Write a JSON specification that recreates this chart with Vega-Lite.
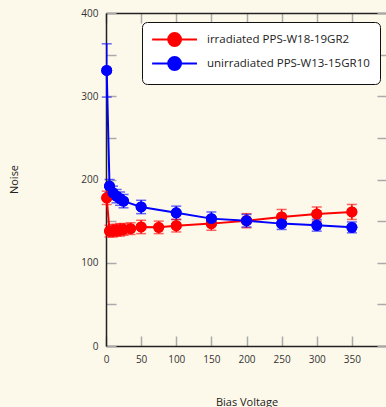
{
  "$schema": "https://vega.github.io/schema/vega-lite/v6.json",
  "autosize": {"type": "none"},
  "padding": {"left": 106, "top": 13, "right": 0, "bottom": 61},
  "width": 281,
  "height": 333,
  "background": "#fdf9ea",
  "config": {
    "font": "Open Sans",
    "view": {"stroke": null},
    "axis": {"labelFlush": false, "grid": false, "labelColor": "#333", "labelFontSize": 10, "titleFontSize": 11, "titleFontWeight": "normal", "titleColor": "#222", "tickColor": "#aaa", "tickWidth": 1.5, "domainColor": "#222", "domainWidth": 1.5}
  },
  "data": {"values": [
    {"v": 1, "noise": 178, "lo": 170, "hi": 186, "series": "irradiated PPS-W18-19GR2"},
    {"v": 5, "noise": 138, "lo": 131, "hi": 145, "series": "irradiated PPS-W18-19GR2"},
    {"v": 10, "noise": 138.5, "lo": 131, "hi": 146, "series": "irradiated PPS-W18-19GR2"},
    {"v": 15, "noise": 139, "lo": 132, "hi": 146, "series": "irradiated PPS-W18-19GR2"},
    {"v": 20, "noise": 139.5, "lo": 132, "hi": 147, "series": "irradiated PPS-W18-19GR2"},
    {"v": 25, "noise": 140, "lo": 133, "hi": 147, "series": "irradiated PPS-W18-19GR2"},
    {"v": 35, "noise": 141, "lo": 134, "hi": 148, "series": "irradiated PPS-W18-19GR2"},
    {"v": 50, "noise": 143, "lo": 135, "hi": 151, "series": "irradiated PPS-W18-19GR2"},
    {"v": 75, "noise": 142.5, "lo": 135, "hi": 150, "series": "irradiated PPS-W18-19GR2"},
    {"v": 100, "noise": 144.5, "lo": 137, "hi": 152, "series": "irradiated PPS-W18-19GR2"},
    {"v": 150, "noise": 147, "lo": 139, "hi": 155, "series": "irradiated PPS-W18-19GR2"},
    {"v": 200, "noise": 150.5, "lo": 142, "hi": 159, "series": "irradiated PPS-W18-19GR2"},
    {"v": 250, "noise": 155, "lo": 146, "hi": 164, "series": "irradiated PPS-W18-19GR2"},
    {"v": 300, "noise": 158.5, "lo": 150, "hi": 167, "series": "irradiated PPS-W18-19GR2"},
    {"v": 350, "noise": 161, "lo": 152, "hi": 170, "series": "irradiated PPS-W18-19GR2"},
    {"v": 1, "noise": 331, "lo": 299, "hi": 363, "series": "unirradiated PPS-W13-15GR10"},
    {"v": 5, "noise": 192, "lo": 184, "hi": 200, "series": "unirradiated PPS-W13-15GR10"},
    {"v": 10, "noise": 184, "lo": 176, "hi": 192, "series": "unirradiated PPS-W13-15GR10"},
    {"v": 15, "noise": 180, "lo": 172, "hi": 188, "series": "unirradiated PPS-W13-15GR10"},
    {"v": 20, "noise": 177, "lo": 169, "hi": 185, "series": "unirradiated PPS-W13-15GR10"},
    {"v": 25, "noise": 174, "lo": 166, "hi": 182, "series": "unirradiated PPS-W13-15GR10"},
    {"v": 50, "noise": 167, "lo": 159, "hi": 175, "series": "unirradiated PPS-W13-15GR10"},
    {"v": 100, "noise": 160, "lo": 152, "hi": 168, "series": "unirradiated PPS-W13-15GR10"},
    {"v": 150, "noise": 153, "lo": 145, "hi": 161, "series": "unirradiated PPS-W13-15GR10"},
    {"v": 200, "noise": 150.5, "lo": 143, "hi": 158, "series": "unirradiated PPS-W13-15GR10"},
    {"v": 250, "noise": 147, "lo": 140, "hi": 154, "series": "unirradiated PPS-W13-15GR10"},
    {"v": 300, "noise": 145, "lo": 138, "hi": 152, "series": "unirradiated PPS-W13-15GR10"},
    {"v": 350, "noise": 142.5, "lo": 136, "hi": 149, "series": "unirradiated PPS-W13-15GR10"}
  ]},
  "resolve": {"axis": {"x": "independent", "y": "independent"}},
  "layer": [
    {
      "mark": {"type": "point", "filled": true, "opacity": 1, "size": 120},
      "encoding": {
        "x": {"field": "v", "type": "quantitative", "title": "Bias Voltage", "scale": {"domain": [0, 400], "nice": false}, "axis": {"orient": "bottom", "values": [0, 50, 100, 150, 200, 250, 300, 350], "tickSize": -10, "labelPadding": 18, "titleY": 50, "titleBaseline": "top"}},
        "y": {"field": "noise", "type": "quantitative", "title": "Noise", "scale": {"domain": [0, 400], "nice": false}, "axis": {"orient": "left", "values": [0, 50, 100, 150, 200, 250, 300, 350, 400], "labelExpr": "datum.value % 100 === 0 ? datum.label : ''", "tickSize": -10, "labelPadding": 18, "titleX": -92, "titleY": 166, "titleAngle": -90, "titleAlign": "center", "titleBaseline": "middle"}},
        "color": {"field": "series", "type": "nominal", "title": null, "scale": {"domain": ["irradiated PPS-W18-19GR2", "unirradiated PPS-W13-15GR10"], "range": ["#ff0000", "#0000ff"]}, "legend": {
          "orient": "none", "legendX": 36, "legendY": 9, "direction": "vertical",
          "fillColor": "#ffffff", "strokeColor": "#111111", "cornerRadius": 5, "padding": 10,
          "symbolType": "M-1.15,0H5.85M3.36,0A1,1,0,1,1,1.36,0A1,1,0,1,1,3.36,0",
          "symbolSize": 164, "symbolStrokeWidth": 2, "symbolOpacity": 1,
          "labelFontSize": 11.5, "labelColor": "#222", "labelAlign": "left", "labelOffset": 40, "rowPadding": 3, "labelLimit": 300
        }}
      }
    },
    {
      "mark": {"type": "rule", "strokeWidth": 1.5},
      "encoding": {
        "x": {"field": "v", "type": "quantitative", "axis": null},
        "y": {"field": "lo", "type": "quantitative", "axis": null},
        "y2": {"field": "hi"},
        "color": {"field": "series", "type": "nominal"}
      }
    },
    {
      "mark": {"type": "tick", "orient": "horizontal", "size": 10, "thickness": 1.5, "opacity": 0.6},
      "encoding": {
        "x": {"field": "v", "type": "quantitative", "axis": null},
        "y": {"field": "lo", "type": "quantitative", "axis": null},
        "color": {"field": "series", "type": "nominal", "legend": null}
      }
    },
    {
      "mark": {"type": "tick", "orient": "horizontal", "size": 10, "thickness": 1.5, "opacity": 0.6},
      "encoding": {
        "x": {"field": "v", "type": "quantitative", "axis": null},
        "y": {"field": "hi", "type": "quantitative", "axis": null},
        "color": {"field": "series", "type": "nominal", "legend": null}
      }
    },
    {
      "mark": {"type": "line", "strokeWidth": 2},
      "encoding": {
        "x": {"field": "v", "type": "quantitative", "axis": null},
        "y": {"field": "noise", "type": "quantitative", "axis": null},
        "color": {"field": "series", "type": "nominal"}
      }
    },
    {
      "mark": {"type": "point", "filled": true, "opacity": 1, "size": 120},
      "encoding": {
        "x": {"field": "v", "type": "quantitative", "axis": null},
        "y": {"field": "noise", "type": "quantitative", "axis": null},
        "color": {"field": "series", "type": "nominal"}
      }
    },
    {
      "mark": {"type": "rule", "opacity": 0},
      "encoding": {
        "x": {"field": "v", "type": "quantitative", "axis": {"orient": "top", "values": [0, 50, 100, 150, 200, 250, 300, 350, 400], "tickSize": -10, "labels": false, "title": null}},
        "y": {"field": "noise", "type": "quantitative", "axis": {"orient": "right", "values": [0, 50, 100, 150, 200, 250, 300, 350, 400], "tickSize": -10, "labels": false, "title": null}}
      }
    }
  ]
}
